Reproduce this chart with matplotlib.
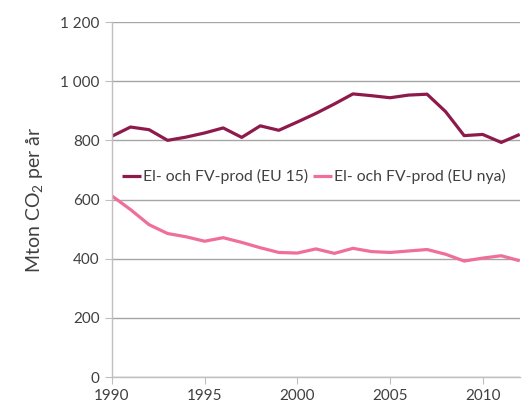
import matplotlib
matplotlib.use('Agg')
import matplotlib.pyplot as plt
from matplotlib.ticker import FuncFormatter

plt.rcParams['font.family'] = ['Lato', 'DejaVu Sans']
plt.rcParams['mathtext.fontset'] = 'custom'
plt.rcParams['mathtext.rm'] = 'Lato'

years = list(range(1990, 2013))
eu15 = [814, 845, 836, 800, 811, 825, 842, 810, 849, 834, 862, 891, 923,
        957, 951, 944, 953, 956, 897, 816, 820, 793, 820]
eu_nya = [612, 566, 515, 485, 474, 459, 471, 455, 437, 421, 419, 433, 418,
          435, 424, 421, 426, 431, 415, 392, 402, 410, 393]
labels = ['El- och FV-prod (EU 15)', 'El- och FV-prod (EU nya)']

text_col = '#404040'
grid_col = '#A6A6A6'

fig = plt.figure(figsize=(5.25, 4.04), dpi=100)
ax = fig.add_axes([0.2133, 0.0668, 0.7767, 0.8787])

ax.plot(years, eu15, color='#8E1A4C', lw=2.3, label=labels[0], solid_capstyle='butt')
ax.plot(years, eu_nya, color='#EF6F98', lw=2.3, label=labels[1], solid_capstyle='butt')

ax.set_xlim(1990, 2012)
ax.set_ylim(0, 1200)
ax.set_yticks(range(0, 1201, 200))
ax.set_xticks(range(1990, 2011, 5))
ax.yaxis.set_major_formatter(FuncFormatter(lambda v, p: f'{int(v):,}'.replace(',', ' ')))
ax.grid(axis='y', color=grid_col, lw=1)
ax.set_axisbelow(True)
for s in ['top', 'right']:
    ax.spines[s].set_visible(False)
for s in ['left', 'bottom']:
    ax.spines[s].set_color('#BFBFBF')
    ax.spines[s].set_linewidth(1)
ax.tick_params(colors=text_col, labelsize=11, length=5, color='#BFBFBF')
ax.tick_params(axis='y', pad=4)
ax.set_ylabel('Mton CO$_2$ per år', fontsize=14, color=text_col, labelpad=10)

ax.legend(loc='upper left', bbox_to_anchor=(-0.01, 0.625), ncol=2, frameon=False,
          fontsize=11.3, handlelength=1.2, handletextpad=0.15, columnspacing=0.3,
          labelcolor=text_col)

fig.savefig('out.png', dpi=100)
